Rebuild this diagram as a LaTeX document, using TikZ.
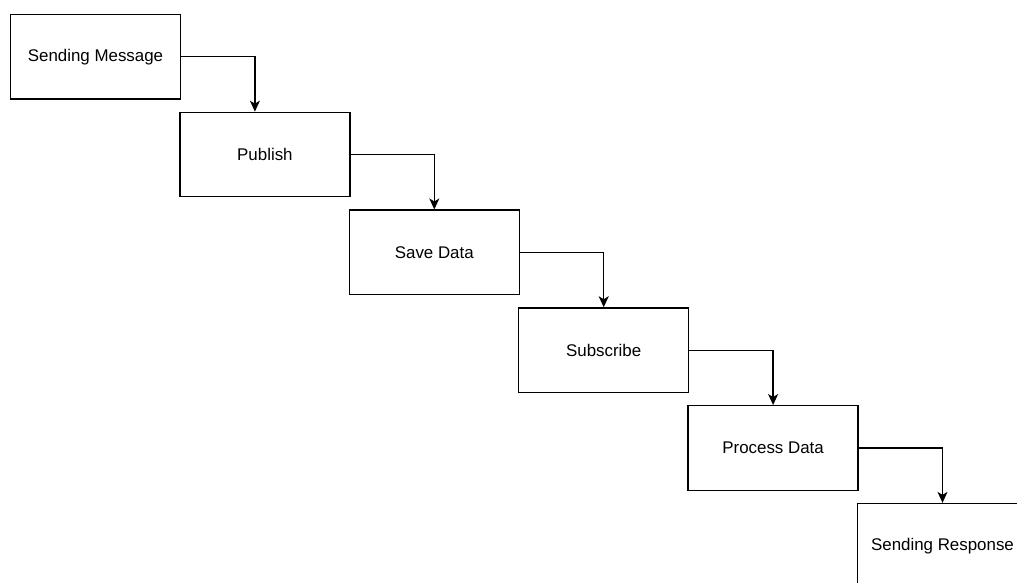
\documentclass[tikz,border=0pt]{standalone}
\usepackage{fontspec}
\setmainfont{Liberation Sans}
\usetikzlibrary{arrows.meta}
\begin{document}
\begin{tikzpicture}[x=1pt,y=-1pt,
  stepbox/.style={draw=black,line width=1.3pt,minimum width=170pt,minimum height=84.5pt,
    inner sep=0pt,font=\fontsize{16.9pt}{20pt}\selectfont},
  flow/.style={draw=black,line width=1.3pt,-{Stealth[length=11pt,width=10pt,inset=3pt]}}]
  \useasboundingbox (0,0) rectangle (1017,583);
  \clip (0,0) rectangle (1017,583);
  % staircase of process steps
  \node[stepbox] (s1) at (95.5,56.75)  {Sending Message};
  \node[stepbox] (s2) at (264.9,154.55) {Publish};
  \node[stepbox] (s3) at (434.3,252.35) {Save Data};
  \node[stepbox] (s4) at (603.7,350.15) {Subscribe};
  \node[stepbox] (s5) at (773.1,447.95) {Process Data};
  \node[stepbox] (s6) at (942.5,545.75) {Sending Response};
  % elbow connectors
  \draw[flow] (s1.east) -| ([xshift=-10pt]s2.north);
  \draw[flow] (s2.east) -| (s3.north);
  \draw[flow] (s3.east) -| (s4.north);
  \draw[flow] (s4.east) -| (s5.north);
  \draw[flow] (s5.east) -| (s6.north);
\end{tikzpicture}
\end{document}
